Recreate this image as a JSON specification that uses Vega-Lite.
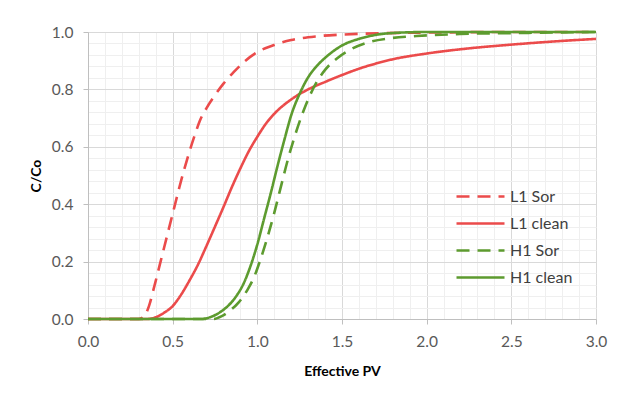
{
  "$schema": "https://vega.github.io/schema/vega-lite/v6.json",
  "width": 508,
  "height": 287,
  "autosize": {"type": "none"},
  "padding": {"left": 88, "top": 32, "right": 26, "bottom": 78},
  "background": "white",
  "config": {
    "view": {"stroke": null},
    "font": "Lato",
    "axis": {"labelFont": "Lato", "titleFont": "Lato"}
  },
  "data": {
    "values": [
      {"s": "L1 Sor", "x": 0, "y": 0},
      {"s": "L1 Sor", "x": 0.3, "y": 0},
      {"s": "L1 Sor", "x": 0.33, "y": 0.008},
      {"s": "L1 Sor", "x": 0.36, "y": 0.045},
      {"s": "L1 Sor", "x": 0.39, "y": 0.11},
      {"s": "L1 Sor", "x": 0.42, "y": 0.18},
      {"s": "L1 Sor", "x": 0.45, "y": 0.25},
      {"s": "L1 Sor", "x": 0.48, "y": 0.32},
      {"s": "L1 Sor", "x": 0.51, "y": 0.39},
      {"s": "L1 Sor", "x": 0.54, "y": 0.46},
      {"s": "L1 Sor", "x": 0.57, "y": 0.525},
      {"s": "L1 Sor", "x": 0.6, "y": 0.585},
      {"s": "L1 Sor", "x": 0.63, "y": 0.64},
      {"s": "L1 Sor", "x": 0.66, "y": 0.69},
      {"s": "L1 Sor", "x": 0.7, "y": 0.735},
      {"s": "L1 Sor", "x": 0.75, "y": 0.78},
      {"s": "L1 Sor", "x": 0.8, "y": 0.82},
      {"s": "L1 Sor", "x": 0.86, "y": 0.86},
      {"s": "L1 Sor", "x": 0.93, "y": 0.9},
      {"s": "L1 Sor", "x": 1.0, "y": 0.93},
      {"s": "L1 Sor", "x": 1.1, "y": 0.955},
      {"s": "L1 Sor", "x": 1.2, "y": 0.972},
      {"s": "L1 Sor", "x": 1.35, "y": 0.985},
      {"s": "L1 Sor", "x": 1.5, "y": 0.991},
      {"s": "L1 Sor", "x": 1.75, "y": 0.996},
      {"s": "L1 Sor", "x": 2.0, "y": 0.998},
      {"s": "L1 Sor", "x": 2.5, "y": 1.0},
      {"s": "L1 Sor", "x": 3.0, "y": 1.0},

      {"s": "L1 clean", "x": 0, "y": 0},
      {"s": "L1 clean", "x": 0.346, "y": 0},
      {"s": "L1 clean", "x": 0.4, "y": 0.006},
      {"s": "L1 clean", "x": 0.45, "y": 0.022},
      {"s": "L1 clean", "x": 0.5, "y": 0.045},
      {"s": "L1 clean", "x": 0.55, "y": 0.085},
      {"s": "L1 clean", "x": 0.6, "y": 0.135},
      {"s": "L1 clean", "x": 0.65, "y": 0.19},
      {"s": "L1 clean", "x": 0.7, "y": 0.255},
      {"s": "L1 clean", "x": 0.75, "y": 0.322},
      {"s": "L1 clean", "x": 0.8, "y": 0.39},
      {"s": "L1 clean", "x": 0.85, "y": 0.46},
      {"s": "L1 clean", "x": 0.9, "y": 0.525},
      {"s": "L1 clean", "x": 0.95, "y": 0.585},
      {"s": "L1 clean", "x": 1.0, "y": 0.635},
      {"s": "L1 clean", "x": 1.05, "y": 0.68},
      {"s": "L1 clean", "x": 1.1, "y": 0.715},
      {"s": "L1 clean", "x": 1.2, "y": 0.765},
      {"s": "L1 clean", "x": 1.3, "y": 0.8},
      {"s": "L1 clean", "x": 1.4, "y": 0.826},
      {"s": "L1 clean", "x": 1.5, "y": 0.85},
      {"s": "L1 clean", "x": 1.6, "y": 0.872},
      {"s": "L1 clean", "x": 1.7, "y": 0.89},
      {"s": "L1 clean", "x": 1.8, "y": 0.905},
      {"s": "L1 clean", "x": 2.0, "y": 0.925},
      {"s": "L1 clean", "x": 2.25, "y": 0.943},
      {"s": "L1 clean", "x": 2.5, "y": 0.956},
      {"s": "L1 clean", "x": 2.75, "y": 0.967},
      {"s": "L1 clean", "x": 3.0, "y": 0.976},

      {"s": "H1 Sor", "x": 0, "y": 0},
      {"s": "H1 Sor", "x": 0.74, "y": 0},
      {"s": "H1 Sor", "x": 0.79, "y": 0.01},
      {"s": "H1 Sor", "x": 0.84, "y": 0.03},
      {"s": "H1 Sor", "x": 0.89, "y": 0.058},
      {"s": "H1 Sor", "x": 0.94, "y": 0.1},
      {"s": "H1 Sor", "x": 0.98, "y": 0.145},
      {"s": "H1 Sor", "x": 1.02, "y": 0.21},
      {"s": "H1 Sor", "x": 1.06, "y": 0.285},
      {"s": "H1 Sor", "x": 1.1, "y": 0.37},
      {"s": "H1 Sor", "x": 1.14, "y": 0.463},
      {"s": "H1 Sor", "x": 1.18, "y": 0.555},
      {"s": "H1 Sor", "x": 1.22, "y": 0.635},
      {"s": "H1 Sor", "x": 1.26, "y": 0.705},
      {"s": "H1 Sor", "x": 1.3, "y": 0.765},
      {"s": "H1 Sor", "x": 1.35, "y": 0.825},
      {"s": "H1 Sor", "x": 1.4, "y": 0.868},
      {"s": "H1 Sor", "x": 1.47, "y": 0.908},
      {"s": "H1 Sor", "x": 1.56, "y": 0.942},
      {"s": "H1 Sor", "x": 1.66, "y": 0.965},
      {"s": "H1 Sor", "x": 1.78, "y": 0.978},
      {"s": "H1 Sor", "x": 1.94, "y": 0.986},
      {"s": "H1 Sor", "x": 2.2, "y": 0.993},
      {"s": "H1 Sor", "x": 2.6, "y": 0.997},
      {"s": "H1 Sor", "x": 3.0, "y": 1.0},

      {"s": "H1 clean", "x": 0, "y": 0},
      {"s": "H1 clean", "x": 0.67, "y": 0},
      {"s": "H1 clean", "x": 0.72, "y": 0.006},
      {"s": "H1 clean", "x": 0.77, "y": 0.02},
      {"s": "H1 clean", "x": 0.82, "y": 0.042},
      {"s": "H1 clean", "x": 0.87, "y": 0.075},
      {"s": "H1 clean", "x": 0.92, "y": 0.125},
      {"s": "H1 clean", "x": 0.96, "y": 0.185},
      {"s": "H1 clean", "x": 1.0, "y": 0.26},
      {"s": "H1 clean", "x": 1.04, "y": 0.35},
      {"s": "H1 clean", "x": 1.08, "y": 0.44},
      {"s": "H1 clean", "x": 1.12, "y": 0.535},
      {"s": "H1 clean", "x": 1.16, "y": 0.625},
      {"s": "H1 clean", "x": 1.2, "y": 0.71},
      {"s": "H1 clean", "x": 1.25, "y": 0.785},
      {"s": "H1 clean", "x": 1.3, "y": 0.842},
      {"s": "H1 clean", "x": 1.36, "y": 0.887},
      {"s": "H1 clean", "x": 1.42, "y": 0.92},
      {"s": "H1 clean", "x": 1.5, "y": 0.953},
      {"s": "H1 clean", "x": 1.6, "y": 0.976},
      {"s": "H1 clean", "x": 1.7, "y": 0.99},
      {"s": "H1 clean", "x": 1.85, "y": 0.998},
      {"s": "H1 clean", "x": 2.0, "y": 1.0},
      {"s": "H1 clean", "x": 3.0, "y": 1.0}
    ]
  },
  "layer": [
    {
      "description": "Minor gridlines only (every 0.1 on x, every 0.04 on y)",
      "mark": {"type": "point", "opacity": 0},
      "encoding": {
        "x": {
          "field": "x", "type": "quantitative",
          "scale": {"domain": [0, 3], "nice": false},
          "axis": {
            "orient": "bottom", "title": null, "labels": false, "ticks": false, "domain": false,
            "grid": true, "gridColor": "#EFEFEF", "gridWidth": 1,
            "values": [0.1, 0.2, 0.3, 0.4, 0.6, 0.7, 0.8, 0.9, 1.1, 1.2, 1.3, 1.4, 1.6, 1.7, 1.8, 1.9, 2.1, 2.2, 2.3, 2.4, 2.6, 2.7, 2.8, 2.9]
          }
        },
        "y": {
          "field": "y", "type": "quantitative",
          "scale": {"domain": [0, 1], "nice": false},
          "axis": {
            "orient": "left", "title": null, "labels": false, "ticks": false, "domain": false,
            "grid": true, "gridColor": "#EFEFEF", "gridWidth": 1,
            "values": [0.04, 0.08, 0.12, 0.16, 0.24, 0.28, 0.32, 0.36, 0.44, 0.48, 0.52, 0.56, 0.64, 0.68, 0.72, 0.76, 0.84, 0.88, 0.92, 0.96]
          }
        }
      }
    },
    {
      "mark": {"type": "line", "strokeWidth": 2.6, "interpolate": "monotone"},
      "encoding": {
        "x": {
          "field": "x", "type": "quantitative",
          "scale": {"domain": [0, 3], "nice": false},
          "axis": {
            "orient": "bottom", "title": "Effective PV",
            "values": [0, 0.5, 1, 1.5, 2, 2.5, 3], "format": ".1f", "labelFlush": false,
            "grid": true, "gridColor": "#D9D9D9", "gridWidth": 1,
            "domainColor": "#BFBFBF", "tickColor": "#BFBFBF", "tickSize": 5,
            "labelFontSize": 15.5, "labelColor": "#595959", "labelPadding": 10,
            "titleFontSize": 14, "titleFontWeight": "bold", "titleColor": "#000000", "titlePadding": 15
          }
        },
        "y": {
          "field": "y", "type": "quantitative",
          "scale": {"domain": [0, 1], "nice": false},
          "axis": {
            "orient": "left", "title": "C/Co",
            "values": [0, 0.2, 0.4, 0.6, 0.8, 1.0], "format": ".1f", "labelFlush": false,
            "grid": true, "gridColor": "#D9D9D9", "gridWidth": 1,
            "domainColor": "#BFBFBF", "tickColor": "#BFBFBF", "tickSize": 5,
            "labelFontSize": 15.5, "labelColor": "#595959", "labelPadding": 10,
            "titleFontSize": 14, "titleFontWeight": "bold", "titleColor": "#000000", "titlePadding": 8
          }
        },
        "color": {
          "field": "s", "type": "nominal",
          "scale": {
            "domain": ["L1 Sor", "L1 clean", "H1 Sor", "H1 clean"],
            "range": ["#EB4B4B", "#EB4B4B", "#5D9B2F", "#5D9B2F"]
          },
          "legend": {
            "title": null, "orient": "none", "legendX": 375, "legendY": 147, "padding": 0,
            "symbolType": "M-1.5,0H1.5", "symbolSize": 1024, "symbolStrokeWidth": 2.6,
            "labelFontSize": 16, "labelColor": "#404040", "labelFont": "Lato",
            "labelOffset": 12, "rowPadding": 1, "labelLimit": 200
          }
        },
        "strokeDash": {
          "field": "s", "type": "nominal",
          "scale": {
            "domain": ["L1 Sor", "L1 clean", "H1 Sor", "H1 clean"],
            "range": [[13, 8], [1, 0], [13, 8], [1, 0]]
          },
          "legend": {
            "title": null, "orient": "none", "legendX": 375, "legendY": 147, "padding": 0,
            "symbolType": "M-1.5,0H1.5", "symbolSize": 1024, "symbolStrokeWidth": 2.6,
            "labelFontSize": 16, "labelColor": "#404040", "labelFont": "Lato",
            "labelOffset": 12, "rowPadding": 1, "labelLimit": 200
          }
        }
      }
    }
  ],
  "resolve": {"axis": {"x": "independent", "y": "independent"}}
}
